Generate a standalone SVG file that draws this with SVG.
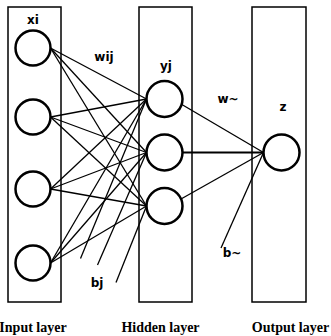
<svg xmlns="http://www.w3.org/2000/svg" width="331" height="336" viewBox="0 0 331 336">
<style>
.box{fill:#fff;stroke:#000;stroke-width:1.5}
.node{fill:#fff;stroke:#000;stroke-width:2.5}
.lbl{font-family:"DejaVu Sans","Liberation Sans",sans-serif;font-weight:bold;font-size:12px;fill:#000;text-anchor:middle}
.cap{font-family:"Liberation Serif","Times New Roman",serif;font-weight:bold;font-size:14px;fill:#000;text-anchor:middle}
#connectors line{stroke:#000;stroke-width:1.3}
</style>
<rect fill="#fff" x="0" y="0" width="331" height="336"/>
<g id="layers">
<rect class="box" x="8" y="7" width="53" height="295"/>
<rect class="box" x="139" y="7" width="53" height="295"/>
<rect class="box" x="252" y="7" width="54" height="295"/>
</g>
<g id="connectors">
<line x1="50.5" y1="48" x2="146.5" y2="99"/>
<line x1="50.5" y1="48" x2="146.5" y2="152.5"/>
<line x1="50.5" y1="48" x2="146.5" y2="206"/>
<line x1="50.5" y1="117" x2="146.5" y2="99"/>
<line x1="50.5" y1="117" x2="146.5" y2="152.5"/>
<line x1="50.5" y1="117" x2="146.5" y2="206"/>
<line x1="50.5" y1="189" x2="146.5" y2="99"/>
<line x1="50.5" y1="189" x2="146.5" y2="152.5"/>
<line x1="50.5" y1="189" x2="146.5" y2="206"/>
<line x1="50.5" y1="263" x2="146.5" y2="99"/>
<line x1="50.5" y1="263" x2="146.5" y2="152.5"/>
<line x1="50.5" y1="263" x2="146.5" y2="206"/>
<line x1="80.5" y1="258.5" x2="146.5" y2="99"/>
<line x1="97.5" y1="265" x2="146.5" y2="152.5"/>
<line x1="116" y1="282.5" x2="146.5" y2="206"/>
<line x1="181" y1="104" x2="263.5" y2="152.5"/>
<line x1="182.5" y1="152.5" x2="263.5" y2="152.5" style="stroke-width:2"/>
<line x1="181" y1="199" x2="263.5" y2="152.5"/>
<line x1="221" y1="248" x2="263.5" y2="152.5"/>
</g>
<g id="x1"><circle class="node" cx="33" cy="48" r="17.5"/></g>
<g id="x2"><circle class="node" cx="33" cy="117" r="17.5"/></g>
<g id="x3"><circle class="node" cx="33" cy="189" r="17.5"/></g>
<g id="x4"><circle class="node" cx="33" cy="263" r="17.5"/></g>
<g id="y1"><circle class="node" cx="164.5" cy="99" r="18"/></g>
<g id="y2"><circle class="node" cx="164.5" cy="152.5" r="18"/></g>
<g id="y3"><circle class="node" cx="164.5" cy="206" r="18"/></g>
<g id="z1"><circle class="node" cx="281.5" cy="152.5" r="18"/></g>
<g id="labels">
<text class="lbl" x="33" y="24">xi</text>
<text class="lbl" x="104" y="61">wij</text>
<text class="lbl" x="166" y="70">yj</text>
<text class="lbl" x="228" y="103">w~</text>
<text class="lbl" x="283" y="111">z</text>
<text class="lbl" x="97" y="287">bj</text>
<text class="lbl" x="232" y="257">b~</text>
<text class="cap" x="33" y="332">Input layer</text>
<text class="cap" x="160.5" y="332">Hidden layer</text>
<text class="cap" x="290.5" y="332">Output layer</text>
</g>
</svg>
